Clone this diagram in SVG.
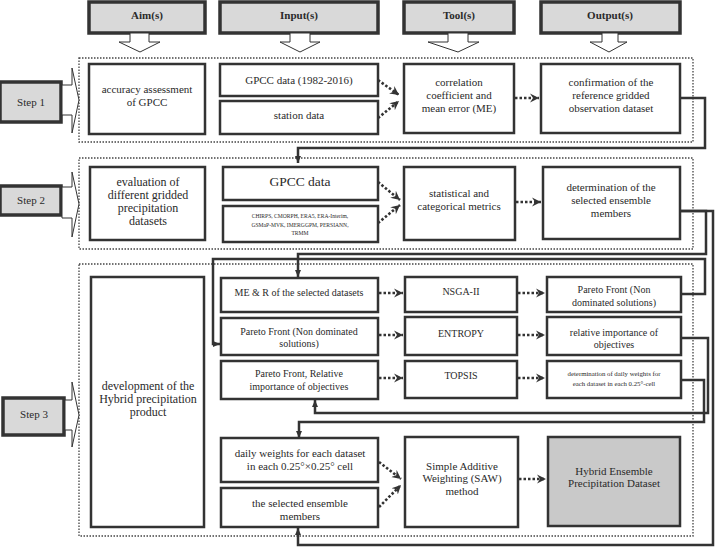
<svg xmlns="http://www.w3.org/2000/svg" width="715" height="548" viewBox="0 0 715 548">
<style>
text{font-family:"Liberation Serif","Times New Roman",serif;fill:#2a2a2a;text-anchor:middle}
.hdr{fill:#d9d9d9;stroke:#333;stroke-width:3.5}
.hdrt{font-weight:bold;font-size:11px}
.box{fill:#fff;stroke:#333;stroke-width:2.5}
.grp{fill:none;stroke:#444;stroke-width:1.3;stroke-dasharray:1.5 1.5}
.hol{fill:#fff;stroke:#333;stroke-width:1}
.con{fill:none;stroke:#333;stroke-width:2.5}
.dot{fill:none;stroke:#333;stroke-width:2.6;stroke-dasharray:2.5 2}
.t11{font-size:11px}.t12{font-size:12px}.t10{font-size:10px}
</style>
<defs>
<marker id="sa" markerUnits="userSpaceOnUse" markerWidth="10" markerHeight="10" refX="7" refY="4" orient="auto" viewBox="0 0 10 10"><path d="M0,1 L7,4 L0,7 z" fill="#333"/></marker>
<marker id="da" markerUnits="userSpaceOnUse" markerWidth="12" markerHeight="12" refX="9" refY="5" orient="auto" viewBox="0 0 12 12"><path d="M0,0.5 L9,5 L0,9.5 L3,5 z" fill="#333"/></marker>
</defs>

<g id="headers">
<g id="h-aim"><rect class="hdr" x="89" y="2" width="116" height="31"/><text class="hdrt" x="147" y="19">Aim(s)</text>
<polygon class="hol" points="130,33 149,33 149,42 160,42 140,52 119,42 130,42"/></g>
<g id="h-input"><rect class="hdr" x="220" y="2" width="158" height="31"/><text class="hdrt" x="299" y="19">Input(s)</text>
<polygon class="hol" points="290,33 310,33 310,42 320,42 300,52 280,42 290,42"/></g>
<g id="h-tool"><rect class="hdr" x="404" y="2" width="110" height="31"/><text class="hdrt" x="459" y="19">Tool(s)</text>
<polygon class="hol" points="448,33 468,33 468,42 479,42 458,52 428,42 448,42"/></g>
<g id="h-output"><rect class="hdr" x="541" y="2" width="139" height="31"/><text class="hdrt" x="610" y="19">Output(s)</text>
<polygon class="hol" points="602,33 618,33 618,42 627,42 609,52 590,42 602,42"/></g>
</g>

<g id="groups">
<rect class="grp" x="79" y="58" width="614" height="84"/>
<rect class="grp" x="79" y="158" width="614" height="91"/>
<rect class="grp" x="79" y="264" width="614" height="272"/>
</g>

<g id="step1"><rect class="hdr" x="0" y="82" width="61" height="40"/><text class="t11" x="31" y="106">Step 1</text>
<polygon class="hol" points="62,85 72,85 72,68 79,100 72,133 72,115 62,115"/></g>
<g id="step2"><rect class="hdr" x="0" y="186" width="61" height="29"/><text class="t11" x="31" y="204">Step 2</text>
<polygon class="hol" points="62,187 72,187 72,172 79,204 72,237 72,218 62,218"/></g>
<g id="step3"><rect class="hdr" x="3" y="398" width="61" height="37"/><text class="t11" x="34" y="418">Step 3</text>
<polygon class="hol" points="65,400 72,400 72,382 79,415 72,447 72,430 65,430"/></g>

<g id="s1-aim"><rect class="box" x="89" y="64" width="116" height="70"/><text class="t11" x="147" y="93">accuracy assessment</text><text class="t11" x="147" y="106">of GPCC</text></g>
<g id="s1-gpcc"><rect class="box" x="220" y="64" width="158" height="32"/><text class="t11" x="299" y="84">GPCC data (1982-2016)</text></g>
<g id="s1-station"><rect class="box" x="220" y="101" width="158" height="33"/><text class="t11" x="299" y="119">station data</text></g>
<g id="s1-tool"><rect class="box" x="404" y="64" width="110" height="69"/><text class="t11" x="459" y="86">correlation</text><text class="t11" x="459" y="99">coefficient and</text><text class="t11" x="459" y="112">mean error (ME)</text></g>
<g id="s1-out"><rect class="box" x="541" y="64" width="139" height="69"/><text class="t11" x="611" y="86">confirmation of the</text><text class="t11" x="611" y="99">reference gridded</text><text class="t11" x="611" y="112">observation dataset</text></g>

<g id="s2-aim"><rect class="box" x="90" y="167" width="115" height="73"/><text class="t12" x="148" y="186">evaluation of</text><text class="t12" x="148" y="199">different gridded</text><text class="t12" x="148" y="212">precipitation</text><text class="t12" x="148" y="225">datasets</text></g>
<g id="s2-gpcc"><rect class="box" x="223" y="167" width="155" height="33"/><text x="300" y="186" style="font-size:13.5px">GPCC data</text></g>
<g id="s2-list"><rect class="box" x="223" y="206" width="155" height="36"/><text x="300" y="218" style="font-size:5.6px">CHIRPS, CMORPH, ERA5, ERA-Interim,</text><text x="300" y="227" style="font-size:5.6px">GSMaP-MVK, IMERGGPM, PERSIANN,</text><text x="300" y="235" style="font-size:5.6px">TRMM</text></g>
<g id="s2-tool"><rect class="box" x="404" y="167" width="111" height="73"/><text class="t11" x="459" y="197">statistical and</text><text class="t11" x="459" y="210">categorical metrics</text></g>
<g id="s2-out"><rect class="box" x="543" y="167" width="137" height="72"/><text class="t11" x="611" y="191">determination of the</text><text class="t11" x="611" y="204">selected ensemble</text><text class="t11" x="611" y="217">members</text></g>

<g id="s3-aim"><rect class="box" x="91" y="277" width="113" height="250"/><text class="t12" x="148" y="390">development of the</text><text class="t12" x="148" y="403">Hybrid precipitation</text><text class="t12" x="148" y="416">product</text></g>
<g id="s3-in1"><rect class="box" x="221" y="278" width="157" height="34"/><text class="t10" x="299" y="296">ME &amp; R of the selected datasets</text></g>
<g id="s3-in2"><rect class="box" x="221" y="318" width="157" height="37"/><text class="t10" x="299" y="335">Pareto Front (Non dominated</text><text class="t10" x="299" y="347">solutions)</text></g>
<g id="s3-in3"><rect class="box" x="221" y="361" width="157" height="38"/><text class="t10" x="299" y="377">Pareto Front, Relative</text><text class="t10" x="299" y="390">importance of objectives</text></g>
<g id="s3-in4"><rect class="box" x="221" y="438" width="157" height="44"/><text class="t11" x="300" y="457">daily weights for each dataset</text><text class="t11" x="300" y="470">in each 0.25°×0.25° cell</text></g>
<g id="s3-in5"><rect class="box" x="221" y="488" width="157" height="39"/><text class="t11" x="300" y="507">the selected ensemble</text><text class="t11" x="300" y="520">members</text></g>

<g id="s3-nsga"><rect class="box" x="405" y="277" width="112" height="35"/><text class="t10" x="461" y="295">NSGA-II</text></g>
<g id="s3-entropy"><rect class="box" x="405" y="317" width="112" height="38"/><text class="t10" x="461" y="337">ENTROPY</text></g>
<g id="s3-topsis"><rect class="box" x="405" y="361" width="112" height="37"/><text class="t10" x="461" y="379">TOPSIS</text></g>
<g id="s3-saw"><rect class="box" x="405" y="437" width="113" height="90"/><text class="t11" x="462" y="470">Simple Additive</text><text class="t11" x="462" y="482">Weighting (SAW)</text><text class="t11" x="462" y="495">method</text></g>

<g id="s3-out1"><rect class="box" x="547" y="277" width="134" height="35"/><text class="t10" x="614" y="293">Pareto Front (Non</text><text class="t10" x="614" y="306">dominated solutions)</text></g>
<g id="s3-out2"><rect class="box" x="547" y="317" width="134" height="38"/><text class="t10" x="614" y="336">relative importance of</text><text class="t10" x="614" y="348">objectives</text></g>
<g id="s3-out3"><rect class="box" x="547" y="361" width="134" height="37"/><text x="614" y="376" style="font-size:6.8px">determination of daily weights for</text><text x="614" y="386" style="font-size:6.8px">each dataset in each 0.25°-cell</text></g>
<g id="s3-hybrid"><rect class="box" x="548" y="437" width="132" height="89" style="fill:#c9c9c9"/><text class="t11" x="614" y="475">Hybrid Ensemble</text><text class="t11" x="614" y="487">Precipitation Dataset</text></g>

<g id="connectors">
<path class="dot" d="M378,80 L399,95" marker-end="url(#da)"/>
<path class="dot" d="M378,118 L399,101" marker-end="url(#da)"/>
<path class="dot" d="M515,98 L539,98" marker-end="url(#da)"/>
<path class="dot" d="M378,182 L400,200" marker-end="url(#da)"/>
<path class="dot" d="M378,223 L400,205" marker-end="url(#da)"/>
<path class="dot" d="M516,202 L541,202" marker-end="url(#da)"/>
<path class="dot" d="M379,293 L403,293" marker-end="url(#da)"/>
<path class="dot" d="M518,293 L545,293" marker-end="url(#da)"/>
<path class="dot" d="M379,335 L403,335" marker-end="url(#da)"/>
<path class="dot" d="M518,335 L545,335" marker-end="url(#da)"/>
<path class="dot" d="M379,378 L403,378" marker-end="url(#da)"/>
<path class="dot" d="M518,378 L545,378" marker-end="url(#da)"/>
<path class="dot" d="M379,462 L401,479" marker-end="url(#da)"/>
<path class="dot" d="M379,507 L401,485" marker-end="url(#da)"/>
<path class="dot" d="M519,479 L546,479" marker-end="url(#da)"/>
<path class="con" d="M681,98 H705 V148 H298 V163" marker-end="url(#sa)"/>
<path class="con" d="M681,211 H706 V254 H298 V277" marker-end="url(#sa)"/>
<path class="con" d="M681,211 H713 V545 H298 V528" marker-end="url(#sa)"/>
<path class="con" d="M681,294 H705 V259 H213 V344 H220" marker-end="url(#sa)"/>
<path class="con" d="M681,338 H708 V413 H315 V400" marker-end="url(#sa)"/>
<path class="con" d="M681,380 H704 V422 H299 V438" marker-end="url(#sa)"/>
</g>
</svg>
